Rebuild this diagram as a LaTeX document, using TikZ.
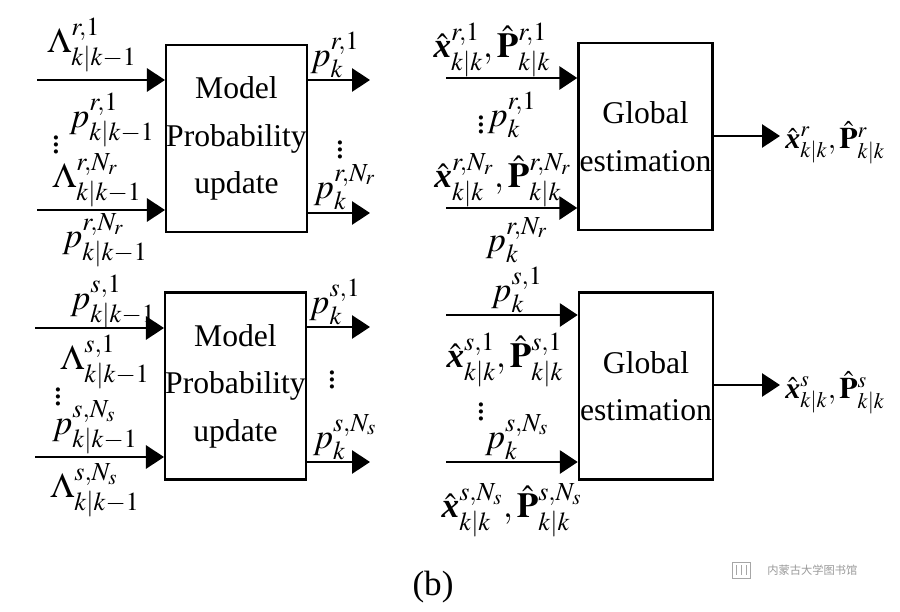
\documentclass[tikz,border=0pt]{standalone}
\usepackage{amsmath}
\usepackage{mathptmx}
\usepackage[no-math]{fontspec}
\setmainfont{Liberation Serif}
\newfontfamily\cjk{Noto Sans CJK SC}
\usetikzlibrary{positioning,arrows.meta}

\newcommand{\xh}{\hat{\textbf{\textit{x}}}}
\newcommand{\Ph}{\hat{\mathbf{P}}}

\begin{document}
\begin{tikzpicture}[x=0.02cm,y=-0.02cm,>={Triangle[length=0.36cm,width=0.46cm]},line width=1.7pt]
  \tikzstyle{block}=[draw,line width=1.4pt,minimum width=2.68cm,minimum height=3.74cm,inner sep=0pt,align=center,font=\fontsize{18}{27}\selectfont]
  \tikzstyle{lab}=[inner sep=0pt,font=\fontsize{20}{24}\selectfont]
  \tikzstyle{outlab}=[lab,anchor=west,font=\fontsize{17}{20}\selectfont]
  \useasboundingbox (0,0) rectangle (900,612);

  % blocks
  \node[block] (mpu_r) at (236.5,138.5) {Model\\Probability\\update};
  \node[block] (mpu_s) at (235.5,386)   {Model\\Probability\\update};
  \node[block] (ge_r)  at (645.5,136.5) {Global\\estimation};
  \node[block] (ge_s)  at (646,386)     {Global\\estimation};

  % model probability update, r
  \coordinate (a_r1) at (37,80);
  \coordinate (a_rN) at (37,210);
  \coordinate (b_r1) at (370,80);
  \coordinate (b_rN) at (370,213);
  \draw[->] (a_r1) -- (a_r1 -| mpu_r.west);
  \draw[->] (a_rN) -- (a_rN -| mpu_r.west);
  \draw[->] (b_r1 -| mpu_r.east) -- (b_r1);
  \draw[->] (b_rN -| mpu_r.east) -- (b_rN);
  \node[lab] (l_r1)  at (92,45)   {$\Lambda^{r,1}_{k|k-1}$};
  \node[lab] (p_r1)  at (112,120) {$p^{r,1}_{k|k-1}$};
  \node[lab] (d_r)   at (56,140)  {$\vdots$};
  \node[lab] (l_rN)  at (97,180)  {$\Lambda^{r,N_r}_{k|k-1}$};
  \node[lab] (p_rN)  at (105,240) {$p^{r,N_r}_{k|k-1}$};
  \node[lab] (q_r1)  at (335,55)  {$p^{r,1}_{k}$};
  \node[lab] (e_r)   at (340,145) {$\vdots$};
  \node[lab] (q_rN)  at (345,187) {$p^{r,N_r}_{k}$};

  % model probability update, s
  \coordinate (a_s1) at (35,328);
  \coordinate (a_sN) at (35,457);
  \coordinate (b_s1) at (370,327);
  \coordinate (b_sN) at (370,462);
  \draw[->] (a_s1) -- (a_s1 -| mpu_s.west);
  \draw[->] (a_sN) -- (a_sN -| mpu_s.west);
  \draw[->] (b_s1 -| mpu_s.east) -- (b_s1);
  \draw[->] (b_sN -| mpu_s.east) -- (b_sN);
  \node[lab] (p_s1)  at (113,302) {$p^{s,1}_{k|k-1}$};
  \node[lab] (l_s1)  at (105,362) {$\Lambda^{s,1}_{k|k-1}$};
  \node[lab] (d_s)   at (58,392)  {$\vdots$};
  \node[lab] (p_sN)  at (95,427)  {$p^{s,N_s}_{k|k-1}$};
  \node[lab] (l_sN)  at (95,490)  {$\Lambda^{s,N_s}_{k|k-1}$};
  \node[lab] (q_s1)  at (335,302) {$p^{s,1}_{k}$};
  \node[lab] (e_s)   at (332,375) {$\vdots$};
  \node[lab] (q_sN)  at (345,437) {$p^{s,N_s}_{k}$};

  % global estimation, r
  \coordinate (g_r1) at (446,78);
  \coordinate (g_rN) at (446,208);
  \coordinate (c_r)  at (780,136);
  \draw[->] (g_r1) -- (g_r1 -| ge_r.west);
  \draw[->] (g_rN) -- (g_rN -| ge_r.west);
  \draw[->] (ge_r.east |- c_r) -- (c_r);
  \node[lab] (x_r1)  at (492,50)  {$\xh^{r,1}_{k|k},\Ph^{r,1}_{k|k}$};
  \node[lab] (f_r)   at (481,120) {$\vdots$};
  \node[lab] (w_r1)  at (512,115) {$p^{r,1}_{k}$};
  \node[lab] (x_rN)  at (503,180) {$\xh^{r,N_r}_{k|k},\Ph^{r,N_r}_{k|k}$};
  \node[lab] (w_rN)  at (517,240) {$p^{r,N_r}_{k}$};
  \node[outlab] (o_r) at (784,143) {$\xh^{r}_{k|k},\Ph^{r}_{k|k}$};

  % global estimation, s
  \coordinate (g_s1) at (446,315);
  \coordinate (g_sN) at (446,462);
  \coordinate (c_s)  at (780,385);
  \draw[->] (g_s1) -- (g_s1 -| ge_s.west);
  \draw[->] (g_sN) -- (g_sN -| ge_s.west);
  \draw[->] (ge_s.east |- c_s) -- (c_s);
  \node[lab] (w_s1)  at (517,290) {$p^{s,1}_{k}$};
  \node[lab] (x_s1)  at (505,360) {$\xh^{s,1}_{k|k},\Ph^{s,1}_{k|k}$};
  \node[lab] (f_s)   at (481,407) {$\vdots$};
  \node[lab] (w_sN)  at (517,437) {$p^{s,N_s}_{k}$};
  \node[lab] (x_sN)  at (512,510) {$\xh^{s,N_s}_{k|k},\Ph^{s,N_s}_{k|k}$};
  \node[outlab] (o_s) at (784,393) {$\xh^{s}_{k|k},\Ph^{s}_{k|k}$};

  % caption and watermark
  \node[font=\fontsize{20}{24}\selectfont] (cap) at (433,587) {(b)};
  \draw[black!35,line width=0.5pt] (732,562) rectangle (750,578)
    (736,565) -- (736,575) (741,565) -- (741,575) (746,565) -- (746,575);
  \node[font=\cjk\fontsize{6.4}{8}\selectfont,text=black!40,anchor=west] (wm) at (760,570) {内蒙古大学图书馆};
\end{tikzpicture}
\end{document}
